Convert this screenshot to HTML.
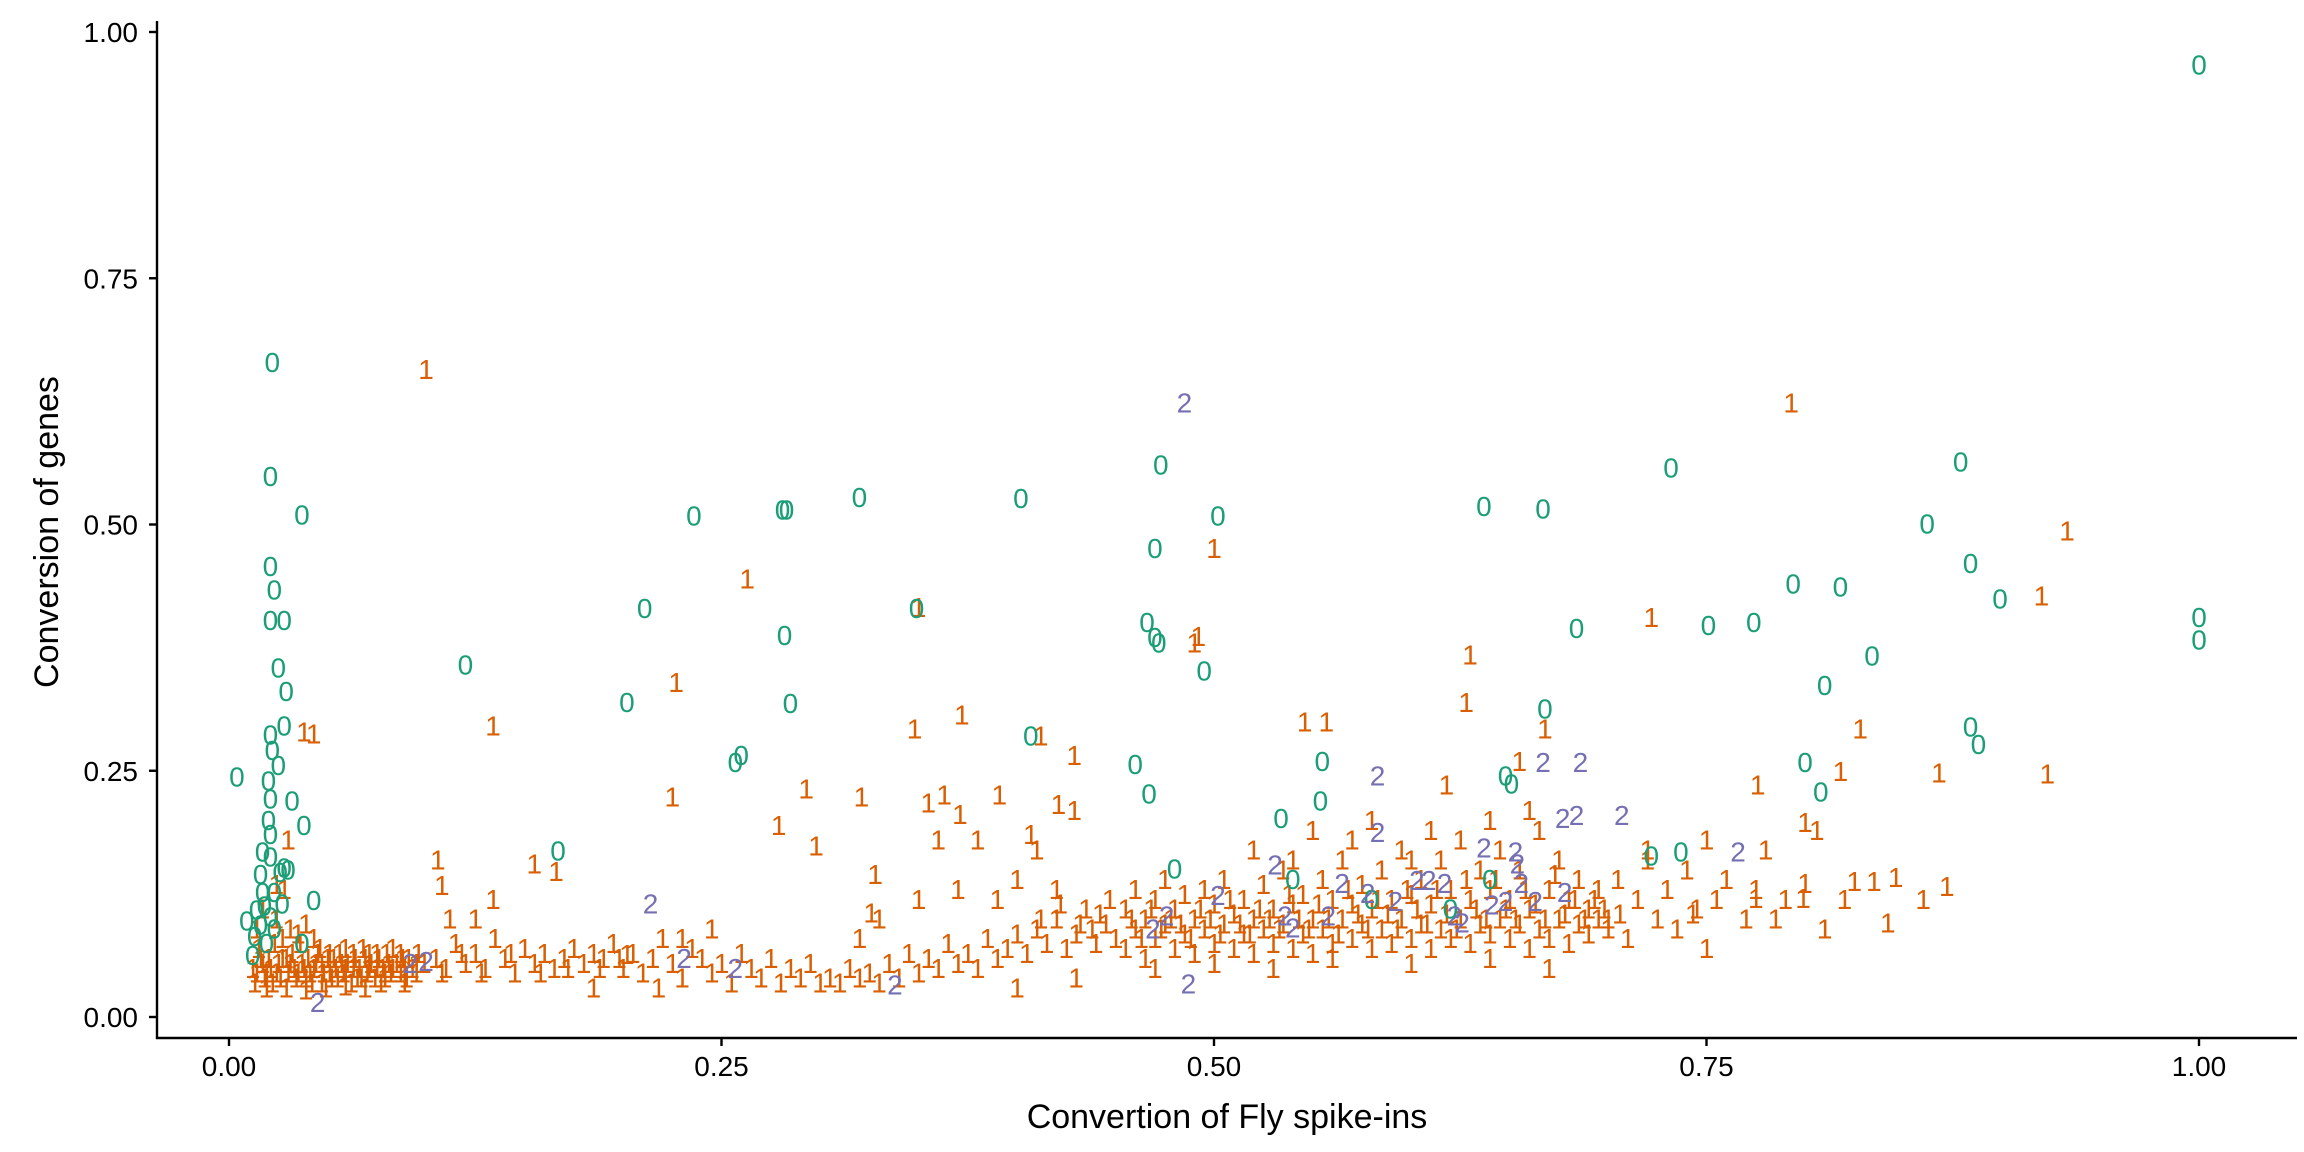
<!DOCTYPE html>
<html><head><meta charset="utf-8"><style>
html,body{margin:0;padding:0;background:#fff;}
svg{display:block;font-family:"Liberation Sans",Arial,sans-serif;}
</style></head><body>
<svg id="chart" width="2304" height="1152" viewBox="0 0 2304 1152" xmlns="http://www.w3.org/2000/svg">
<g id="marks"></g>
<g id="axes"></g>
<text x="0" y="0" transform="translate(58,532) rotate(-90)" text-anchor="middle" font-size="34">Conversion of genes</text>
<text x="1227" y="1128" text-anchor="middle" font-size="34">Convertion of Fly spike-ins</text>
</svg>
<script>
const xTicks = [0, 0.25, 0.5, 0.75, 1];
const xTickLabels = ["0.00","0.25","0.50","0.75","1.00"];
const yTicks = [0, 0.25, 0.5, 0.75, 1];
const yTickLabels = ["0.00","0.25","0.50","0.75","1.00"];

const zeros = [[0.022,0.665],[0.021,0.549],[0.037,0.51],[0.021,0.458],[0.023,0.434],[0.021,0.403],[0.028,0.403],[0.025,0.355],[0.029,0.331],[0.028,0.296],[0.021,0.287],[0.022,0.271],[0.025,0.256],[0.004,0.244],[0.02,0.24],[0.021,0.222],[0.032,0.22],[0.02,0.2],[0.021,0.186],[0.017,0.168],[0.021,0.163],[0.038,0.195],[0.028,0.152],[0.016,0.145],[0.026,0.147],[0.03,0.15],[0.017,0.127],[0.023,0.127],[0.018,0.113],[0.014,0.109],[0.021,0.102],[0.027,0.115],[0.016,0.094],[0.023,0.09],[0.013,0.082],[0.019,0.075],[0.043,0.119],[0.037,0.075],[0.012,0.063],[0.009,0.098],[0.12,0.358],[0.202,0.32],[0.211,0.415],[0.236,0.509],[0.257,0.259],[0.26,0.266],[0.281,0.515],[0.283,0.515],[0.282,0.388],[0.285,0.319],[0.32,0.528],[0.349,0.415],[0.402,0.527],[0.407,0.286],[0.46,0.257],[0.466,0.401],[0.467,0.227],[0.47,0.386],[0.472,0.38],[0.47,0.476],[0.473,0.561],[0.48,0.151],[0.495,0.352],[0.502,0.509],[0.534,0.202],[0.555,0.26],[0.554,0.22],[0.637,0.519],[0.667,0.516],[0.668,0.313],[0.648,0.245],[0.651,0.237],[0.684,0.395],[0.722,0.164],[0.737,0.168],[0.732,0.558],[0.751,0.398],[0.774,0.401],[0.794,0.44],[0.8,0.259],[0.808,0.229],[0.81,0.337],[0.818,0.437],[0.834,0.367],[0.862,0.501],[0.879,0.564],[0.884,0.461],[0.884,0.295],[0.888,0.277],[0.899,0.425],[1.0,0.967],[1.0,0.406],[1.0,0.383],[0.167,0.169],[0.54,0.14],[0.64,0.14],[0.62,0.11],[0.58,0.12]];

const ones = [
[0.1,0.658],[0.793,0.624],[0.933,0.494],[0.5,0.476],[0.263,0.445],[0.35,0.416],[0.492,0.387],[0.49,0.38],[0.722,0.406],[0.63,0.368],[0.92,0.428],[0.227,0.34],[0.134,0.296],[0.038,0.29],[0.043,0.288],[0.348,0.293],[0.372,0.307],[0.412,0.286],[0.546,0.3],[0.557,0.3],[0.668,0.293],[0.628,0.32],[0.828,0.293],[0.429,0.266],[0.655,0.26],[0.818,0.25],[0.868,0.248],[0.923,0.247],[0.293,0.232],[0.225,0.224],[0.321,0.224],[0.776,0.236],[0.618,0.236],[0.429,0.21],[0.421,0.216],[0.391,0.226],[0.363,0.226],[0.355,0.218],[0.371,0.206],[0.279,0.195],[0.298,0.174],[0.407,0.186],[0.8,0.198],[0.806,0.19],[0.106,0.16],[0.108,0.134],[0.155,0.156],[0.166,0.148],[0.134,0.12],[0.328,0.145],[0.8,0.136],[0.825,0.138],[0.835,0.138],[0.846,0.142],[0.872,0.133],[0.775,0.121],[0.799,0.121],[0.842,0.096],[0.743,0.105],[0.706,0.105],[0.185,0.03],[0.218,0.03],[0.202,0.064],[0.326,0.106],
[0.012,0.05],[0.015,0.07],[0.018,0.04],[0.02,0.06],[0.022,0.035],[0.025,0.055],[0.027,0.08],[0.03,0.045],[0.032,0.065],[0.034,0.04],[0.036,0.075],[0.038,0.05],[0.04,0.06],[0.042,0.035],[0.044,0.055],[0.046,0.07],[0.048,0.045],[0.05,0.06],[0.052,0.04],[0.054,0.05],[0.056,0.065],[0.058,0.045],[0.06,0.055],[0.062,0.035],[0.064,0.06],[0.066,0.05],[0.068,0.07],[0.07,0.045],[0.072,0.055],[0.074,0.04],[0.076,0.06],[0.078,0.05],[0.08,0.065],[0.082,0.045],[0.085,0.055],[0.088,0.06],[0.09,0.04],[0.093,0.05],[0.096,0.065],[0.099,0.055],[0.014,0.09],[0.017,0.11],[0.024,0.1],[0.028,0.13],[0.031,0.09],[0.035,0.085],[0.039,0.095],[0.043,0.08],[0.013,0.035],[0.019,0.045],[0.026,0.04],[0.033,0.05],[0.041,0.045],[0.047,0.035],[0.053,0.06],[0.059,0.07],[0.065,0.04],[0.071,0.065],[0.077,0.035],[0.083,0.07],[0.089,0.05],[0.095,0.045],[0.016,0.06],[0.023,0.075],[0.029,0.06],[0.037,0.055],[0.045,0.065],[0.051,0.045],[0.057,0.055],[0.063,0.05],[0.069,0.06],[0.075,0.05],[0.081,0.055],[0.087,0.045],[0.03,0.18],[0.024,0.135],
[0.014,0.045],[0.017,0.055],[0.021,0.05],[0.024,0.045],[0.027,0.06],[0.031,0.055],[0.035,0.045],[0.039,0.04],[0.043,0.05],[0.047,0.055],[0.051,0.065],[0.055,0.04],[0.059,0.05],[0.063,0.065],[0.067,0.04],[0.071,0.05],[0.075,0.065],[0.079,0.045],[0.083,0.05],[0.087,0.065],[0.091,0.06],[0.095,0.055],[0.019,0.03],[0.029,0.03],[0.039,0.028],[0.049,0.03],[0.059,0.032],[0.069,0.03],[0.079,0.04],[0.089,0.035],
[0.105,0.06],[0.11,0.05],[0.115,0.075],[0.12,0.055],[0.125,0.065],[0.13,0.05],[0.135,0.08],[0.14,0.06],[0.145,0.045],[0.15,0.07],[0.155,0.055],[0.16,0.065],[0.165,0.05],[0.17,0.06],[0.175,0.07],[0.18,0.055],[0.185,0.065],[0.19,0.06],[0.195,0.075],[0.2,0.05],[0.205,0.065],[0.21,0.045],[0.215,0.06],[0.22,0.08],[0.225,0.055],[0.23,0.04],[0.235,0.07],[0.24,0.06],[0.245,0.045],[0.25,0.055],[0.255,0.035],[0.26,0.065],[0.265,0.05],[0.27,0.04],[0.275,0.06],[0.28,0.035],[0.285,0.05],[0.29,0.04],[0.295,0.055],[0.3,0.035],[0.112,0.1],[0.125,0.1],[0.23,0.08],[0.245,0.09],[0.108,0.045],[0.118,0.065],[0.128,0.045],[0.143,0.065],[0.158,0.045],[0.172,0.05],[0.188,0.05],[0.198,0.06],
[0.305,0.04],[0.31,0.035],[0.315,0.05],[0.32,0.04],[0.325,0.045],[0.33,0.035],[0.335,0.055],[0.34,0.04],[0.345,0.065],[0.35,0.045],[0.355,0.06],[0.36,0.05],[0.365,0.075],[0.37,0.055],[0.375,0.065],[0.38,0.05],[0.385,0.08],[0.39,0.06],[0.395,0.07],[0.4,0.085],[0.405,0.065],[0.41,0.09],[0.415,0.075],[0.42,0.1],[0.425,0.07],[0.43,0.085],[0.435,0.11],[0.44,0.075],[0.445,0.095],[0.45,0.08],[0.33,0.1],[0.35,0.12],[0.37,0.13],[0.39,0.12],[0.4,0.14],[0.42,0.13],[0.41,0.17],[0.36,0.18],[0.38,0.18],[0.32,0.08],[0.43,0.04],[0.4,0.03],[0.412,0.1],[0.422,0.115],[0.432,0.095],[0.442,0.105],[0.447,0.12],[0.438,0.09],
[0.455,0.07],[0.455,0.11],[0.46,0.09],[0.46,0.13],[0.465,0.06],[0.465,0.1],[0.47,0.08],[0.47,0.12],[0.475,0.095],[0.475,0.14],[0.48,0.07],[0.48,0.11],[0.485,0.085],[0.485,0.125],[0.49,0.065],[0.49,0.1],[0.495,0.09],[0.495,0.13],[0.5,0.075],[0.5,0.115],[0.505,0.095],[0.505,0.14],[0.51,0.07],[0.51,0.105],[0.515,0.085],[0.515,0.12],[0.52,0.065],[0.52,0.1],[0.525,0.09],[0.525,0.135],[0.53,0.075],[0.53,0.11],[0.535,0.095],[0.535,0.15],[0.54,0.07],[0.54,0.115],[0.545,0.085],[0.545,0.125],[0.55,0.065],[0.55,0.1],[0.555,0.09],[0.555,0.14],[0.56,0.075],[0.56,0.12],[0.565,0.1],[0.565,0.16],[0.57,0.08],[0.57,0.115],[0.575,0.095],[0.575,0.135],[0.58,0.07],[0.58,0.11],[0.585,0.09],[0.585,0.15],[0.59,0.075],[0.59,0.12],[0.595,0.1],[0.595,0.17],[0.6,0.08],[0.6,0.125],[0.605,0.095],[0.605,0.14],[0.61,0.07],[0.61,0.115],[0.615,0.09],[0.615,0.16],[0.62,0.08],[0.62,0.13],[0.625,0.1],[0.625,0.18],[0.63,0.075],[0.63,0.12],[0.635,0.095],[0.635,0.15],[0.64,0.085],[0.64,0.13],[0.645,0.1],[0.645,0.17],[0.65,0.08],[0.65,0.12],[0.655,0.095],[0.655,0.15],[0.66,0.07],[0.66,0.11],[0.665,0.09],[0.665,0.19],[0.67,0.08],[0.67,0.13],[0.675,0.1],[0.675,0.16],[0.68,0.075],[0.68,0.12],[0.685,0.095],[0.685,0.14],[0.69,0.085],[0.69,0.11],[0.695,0.1],[0.695,0.13],[0.7,0.09],[0.47,0.05],[0.5,0.055],[0.53,0.05],[0.56,0.06],[0.6,0.055],[0.64,0.06],[0.67,0.05],[0.52,0.17],[0.55,0.19],[0.58,0.2],[0.61,0.19],[0.64,0.2],[0.66,0.21],[0.6,0.16],[0.57,0.18],[0.54,0.16],
[0.458,0.1],[0.463,0.08],[0.468,0.11],[0.473,0.09],[0.478,0.1],[0.483,0.095],[0.488,0.08],[0.493,0.11],[0.498,0.1],[0.503,0.085],[0.508,0.12],[0.513,0.095],[0.518,0.085],[0.523,0.11],[0.528,0.1],[0.533,0.09],[0.538,0.125],[0.543,0.1],[0.548,0.09],[0.553,0.115],[0.558,0.1],[0.563,0.085],[0.568,0.13],[0.573,0.105],[0.578,0.09],[0.583,0.12],[0.588,0.105],[0.593,0.09],[0.598,0.13],[0.603,0.11],[0.608,0.095],[0.613,0.13],[0.618,0.105],[0.623,0.09],[0.628,0.14],[0.633,0.11],[0.638,0.1],[0.643,0.14],[0.648,0.11],[0.653,0.1],[0.658,0.13],[0.663,0.115],[0.668,0.1],[0.673,0.145],[0.678,0.105],[0.683,0.12],[0.688,0.1],[0.693,0.12],[0.698,0.11],
[0.7,0.1],[0.705,0.14],[0.71,0.08],[0.715,0.12],[0.72,0.16],[0.725,0.1],[0.73,0.13],[0.735,0.09],[0.74,0.15],[0.745,0.11],[0.75,0.07],[0.755,0.12],[0.76,0.14],[0.77,0.1],[0.775,0.13],[0.78,0.17],[0.785,0.1],[0.79,0.12],[0.81,0.09],[0.82,0.12],[0.86,0.12],[0.75,0.18],[0.72,0.17]];

const twos = [[0.485,0.624],[0.583,0.245],[0.583,0.188],[0.667,0.259],[0.686,0.259],[0.707,0.205],[0.684,0.205],[0.677,0.202],[0.766,0.168],[0.637,0.172],[0.653,0.168],[0.654,0.156],[0.531,0.155],[0.565,0.136],[0.578,0.126],[0.603,0.139],[0.609,0.139],[0.617,0.136],[0.656,0.136],[0.678,0.127],[0.663,0.118],[0.214,0.115],[0.231,0.06],[0.257,0.05],[0.338,0.033],[0.487,0.034],[0.502,0.124],[0.536,0.103],[0.54,0.091],[0.622,0.103],[0.626,0.096],[0.641,0.114],[0.648,0.118],[0.092,0.055],[0.1,0.057],[0.045,0.015],[0.469,0.09],[0.476,0.103],[0.558,0.103],[0.592,0.118]];

const X0 = 229, XU = 1970, Y0 = 1017, YU = 985;
function sx(v){ return X0 + v*XU; }
function sy(v){ return Y0 - v*YU; }
const NS = "http://www.w3.org/2000/svg";
const marks = document.getElementById('marks');
const axes = document.getElementById('axes');

function drawSeries(data, label, color, name){
  const g = document.createElementNS(NS,'g');
  
  
  data.forEach(function(p){
    const t = document.createElementNS(NS,'text');
    
    
    t.setAttribute('x', sx(p[0]));
    t.setAttribute('y', sy(p[1]) + 10);
    t.setAttribute('text-anchor','middle');
    t.setAttribute('font-size','28');
    t.setAttribute('fill', color);
    t.textContent = label;
    g.appendChild(t);
  });
  marks.appendChild(g);
}
drawSeries(ones, '1', '#d95f02', 'series-1');
drawSeries(zeros, '0', '#1b9e77', 'series-0');
drawSeries(twos, '2', '#7570b3', 'series-2');

function line(x1,y1,x2,y2,name){
  const l = document.createElementNS(NS,'line');
  
  
  l.setAttribute('x1',x1); l.setAttribute('y1',y1);
  l.setAttribute('x2',x2); l.setAttribute('y2',y2);
  l.setAttribute('stroke','#000'); l.setAttribute('stroke-width','2.4');
  axes.appendChild(l);
}
line(157,21,157,1039,'y-axis-line');
line(156,1038,2297,1038,'x-axis-line');
xTicks.forEach(function(v,i){
  line(sx(v),1038,sx(v),1046,'x-tick');
  const t = document.createElementNS(NS,'text');
  
  
  t.setAttribute('x', sx(v)); t.setAttribute('y', 1076);
  t.setAttribute('text-anchor','middle'); t.setAttribute('font-size','28');
  t.textContent = xTickLabels[i];
  axes.appendChild(t);
});
yTicks.forEach(function(v,i){
  line(149,sy(v),157,sy(v),'y-tick');
  const t = document.createElementNS(NS,'text');
  
  
  t.setAttribute('x', 138); t.setAttribute('y', sy(v)+10);
  t.setAttribute('text-anchor','end'); t.setAttribute('font-size','28');
  t.textContent = yTickLabels[i];
  axes.appendChild(t);
});
</script>
</body></html>
